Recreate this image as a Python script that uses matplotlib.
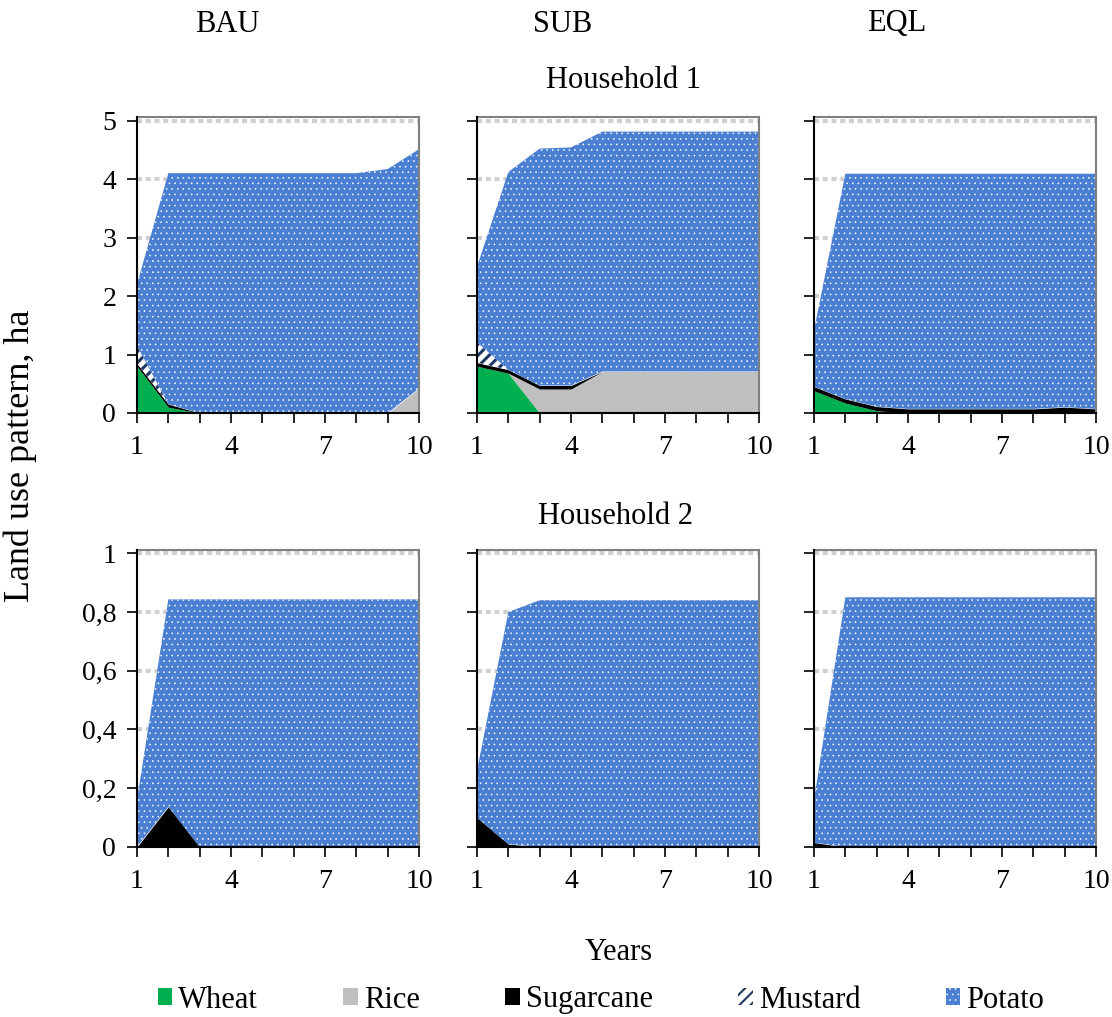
import matplotlib
matplotlib.use("Agg")
import matplotlib.pyplot as plt
from matplotlib.patches import Patch
import numpy as np

plt.rcParams['font.family'] = ['Liberation Serif', 'DejaVu Serif']

years = np.arange(1, 11)
crops = ['Wheat', 'Rice', 'Sugarcane', 'Mustard', 'Potato']
scenarios = ['BAU', 'SUB', 'EQL']

# Household 1 (ha), stacked from the bottom: wheat, rice, sugarcane, mustard, potato
h1_bau_wheat = [0.80, 0.10, 0, 0, 0, 0, 0, 0, 0, 0]
h1_bau_rice = [0, 0, 0, 0, 0, 0, 0, 0, 0, 0.42]
h1_bau_sugar = [0.05, 0.05, 0, 0, 0, 0, 0, 0, 0, 0]
h1_bau_mustard = [0.30, 0, 0, 0, 0, 0, 0, 0, 0, 0]
h1_bau_potato = [1.05, 3.95, 4.10, 4.10, 4.10, 4.10, 4.10, 4.10, 4.17, 4.09]

h1_sub_wheat = [0.80, 0.68, 0, 0, 0, 0, 0, 0, 0, 0]
h1_sub_rice = [0, 0, 0.41, 0.41, 0.71, 0.71, 0.71, 0.71, 0.71, 0.71]
h1_sub_sugar = [0.06, 0.06, 0.06, 0.06, 0, 0, 0, 0, 0, 0]
h1_sub_mustard = [0.35, 0, 0, 0, 0, 0, 0, 0, 0, 0]
h1_sub_potato = [1.29, 3.38, 4.05, 4.07, 4.10, 4.10, 4.10, 4.10, 4.10, 4.10]

h1_eql_wheat = [0.38, 0.17, 0.04, 0, 0, 0, 0, 0, 0.02, 0]
h1_eql_rice = [0, 0, 0, 0, 0, 0, 0, 0, 0, 0]
h1_eql_sugar = [0.07, 0.07, 0.07, 0.07, 0.07, 0.07, 0.07, 0.07, 0.08, 0.07]
h1_eql_mustard = [0, 0, 0, 0, 0, 0, 0, 0, 0, 0]
h1_eql_potato = [0.96, 3.85, 3.98, 4.02, 4.02, 4.02, 4.02, 4.02, 3.99, 4.02]

# Household 2 (ha)
h2_bau_wheat = [0] * 10
h2_bau_rice = [0] * 10
h2_bau_sugar = [0, 0.137, 0, 0, 0, 0, 0, 0, 0, 0]
h2_bau_mustard = [0] * 10
h2_bau_potato = [0.16, 0.706, 0.843, 0.843, 0.843, 0.843, 0.843, 0.843, 0.843, 0.843]

h2_sub_wheat = [0] * 10
h2_sub_rice = [0] * 10
h2_sub_sugar = [0.10, 0.01, 0, 0, 0, 0, 0, 0, 0, 0]
h2_sub_mustard = [0] * 10
h2_sub_potato = [0.16, 0.79, 0.84, 0.84, 0.84, 0.84, 0.84, 0.84, 0.84, 0.84]

h2_eql_wheat = [0] * 10
h2_eql_rice = [0] * 10
h2_eql_sugar = [0.015, 0, 0, 0, 0, 0, 0, 0, 0, 0]
h2_eql_mustard = [0] * 10
h2_eql_potato = [0.145, 0.85, 0.85, 0.85, 0.85, 0.85, 0.85, 0.85, 0.85, 0.85]

data = {
    (0, 0): [h1_bau_wheat, h1_bau_rice, h1_bau_sugar, h1_bau_mustard, h1_bau_potato],
    (0, 1): [h1_sub_wheat, h1_sub_rice, h1_sub_sugar, h1_sub_mustard, h1_sub_potato],
    (0, 2): [h1_eql_wheat, h1_eql_rice, h1_eql_sugar, h1_eql_mustard, h1_eql_potato],
    (1, 0): [h2_bau_wheat, h2_bau_rice, h2_bau_sugar, h2_bau_mustard, h2_bau_potato],
    (1, 1): [h2_sub_wheat, h2_sub_rice, h2_sub_sugar, h2_sub_mustard, h2_sub_potato],
    (1, 2): [h2_eql_wheat, h2_eql_rice, h2_eql_sugar, h2_eql_mustard, h2_eql_potato],
}

# face, hatch colour, hatch, hatch linewidth
styles = [
    ('#00b050', '#00b050', None, 1.0),
    ('#bfbfbf', '#bfbfbf', None, 1.0),
    ('#000000', '#000000', None, 1.0),
    ('#ffffff', '#1f3864', '///', 2.2),
    ('#4a7fd1', '#ffffff', '...', 0.4),
]


def hatch_lw(artist, lw):
    if hasattr(artist, 'set_hatch_linewidth'):
        artist.set_hatch_linewidth(lw)


W, H = 1112, 1017
fig = plt.figure(figsize=(W / 100, H / 100), dpi=100)

col_x = [137, 477, 814]
ax_w = 282
row_bottom = [413, 847]
ax_h = [296, 297]
ylims = [5.06, 1.011]
yticks = [np.arange(0, 6, 1), np.arange(0, 1.01, 0.2)]
ylabels = [['0', '1', '2', '3', '4', '5'], ['0', '0,2', '0,4', '0,6', '0,8', '1']]

for r in range(2):
    for c in range(3):
        ax = fig.add_axes([col_x[c] / W, 1 - row_bottom[r] / H, ax_w / W, ax_h[r] / H])
        base = np.zeros(10)
        for vals, (fc, hc, hatch, hlw) in zip(data[(r, c)], styles):
            top = base + np.array(vals)
            with plt.rc_context({'hatch.linewidth': hlw}):
                pc = ax.fill_between(years, base, top, facecolor=fc, edgecolor=hc,
                                     hatch=hatch, linewidth=0, zorder=2)
            hatch_lw(pc, hlw)
            base = top
        ax.set_xlim(1, 10)
        ax.set_ylim(0, ylims[r])
        ax.set_xticks(years)
        ax.set_xticklabels([str(y) if y in (1, 4, 7, 10) else '' for y in years])
        ax.set_yticks(yticks[r])
        if c == 0:
            ax.set_yticklabels(ylabels[r])
        else:
            ax.set_yticklabels([])
        for yv in yticks[r][1:]:
            ax.axhline(yv, color='#d0d0d0', lw=3, linestyle=(0, (1.2, 0.9)), zorder=1)
        ax.tick_params(direction='out', length=7, width=1.2, labelsize=20, pad=8)
        ax.tick_params(axis='x', pad=9)
        for s in ['left', 'bottom']:
            ax.spines[s].set_color('black')
            ax.spines[s].set_linewidth(1.5)
            ax.spines[s].set_zorder(5)
        for s in ['top', 'right']:
            ax.spines[s].set_color('#808080')
            ax.spines[s].set_linewidth(1.5)

for name, x in zip(scenarios, [227, 563, 897]):
    fig.text(x / W, 1 - 24 / H, name, ha='center', va='center', fontsize=22)
fig.text(623 / W, 1 - 80 / H, 'Household 1', ha='center', va='center', fontsize=22)
fig.text(616 / W, 1 - 516 / H, 'Household 2', ha='center', va='center', fontsize=22)
fig.text(619 / W, 1 - 953 / H, 'Years', ha='center', va='center', fontsize=22)
fig.text(20 / W, 1 - 456 / H, 'Land use pattern, ha', ha='center', va='center',
         rotation=90, fontsize=26)

handles = []
for fc, hc, h, hlw in styles:
    p = Patch(facecolor=fc, edgecolor=hc, hatch=h, linewidth=0)
    hatch_lw(p, hlw)
    handles.append(p)
leg = fig.legend(handles, crops, loc='center', bbox_to_anchor=(601 / W, 1 - 1000 / H),
                 ncol=5, frameon=False, fontsize=22, handlelength=0.47, handleheight=0.47,
                 handletextpad=0.2, columnspacing=2.8, borderpad=0)
for p, (fc, hc, h, hlw) in zip(leg.get_patches(), styles):
    hatch_lw(p, min(hlw, 1.5))

fig.savefig('out.png', dpi=100)
